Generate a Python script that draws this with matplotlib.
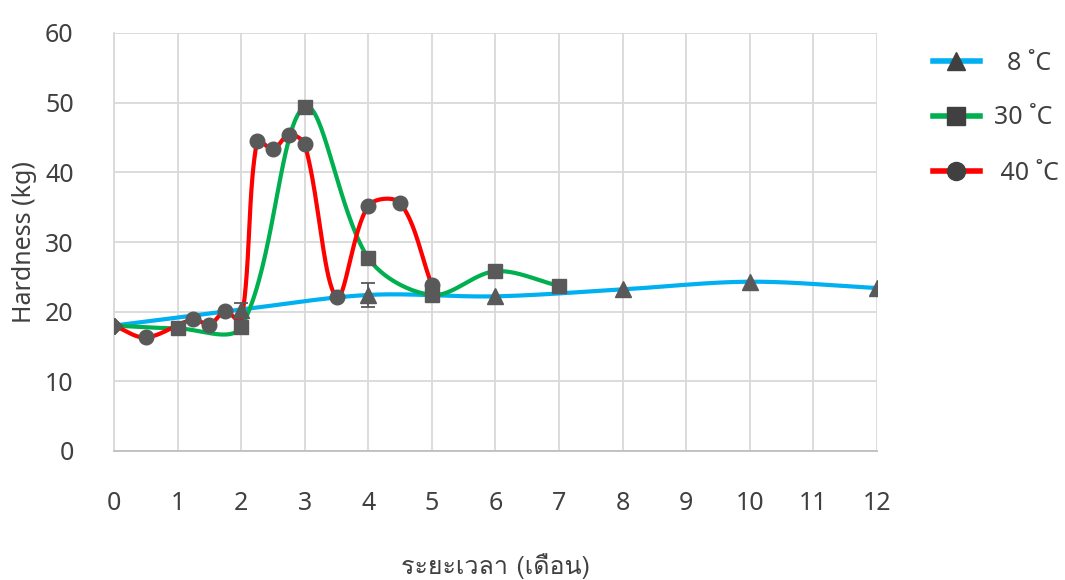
import numpy as np
import matplotlib
matplotlib.use("Agg")
import matplotlib.pyplot as plt
from matplotlib import font_manager
from matplotlib.ft2font import FT2Font

# ---- data -------------------------------------------------------------
months_8 = [0, 2, 4, 6, 8, 10, 12]
hard_8 = [18.0, 20.3, 22.4, 22.2, 23.2, 24.3, 23.4]
err_8 = [0, 1.0, 1.7, 0, 0, 0, 0]

months_30 = [0, 1, 2, 3, 4, 5, 6, 7]
hard_30 = [18.0, 17.6, 17.8, 49.4, 27.7, 22.4, 25.8, 23.7]
err_30 = [0, 0, 0, 0, 0, 0.6, 0, 0]

months_40 = [0, 0.5, 1.25, 1.5, 1.75, 2, 2.25, 2.5, 2.75, 3, 3.5, 4, 4.5, 5]
hard_40 = [18.0, 16.3, 18.9, 18.1, 20.1, 18.6, 44.5, 43.3, 45.4, 44.0,
           22.1, 35.2, 35.6, 23.8]
# month at which the 40 ˚C curve carries no marker
unmarked_40 = [2]

series_labels = ["  8 ˚C", "30 ˚C", " 40 ˚C"]
x_ticks = list(range(0, 13))
y_ticks = list(range(0, 61, 10))
x_title = "ระยะเวลา (เดือน)"
y_title = "Hardness (kg)"

FIG_W, FIG_H = 1065, 580
AX_L, AX_R, AX_T, AX_B = 114, 877, 33, 451


def thai_family():
    for f in font_manager.fontManager.ttflist:
        try:
            if 0x0E23 in FT2Font(f.fname).get_charmap():
                return f.name
        except Exception:
            pass
    return None


def smooth(xs, ys, sx, sy, n=40):
    """Bezier smoothing through every point; tangents are scaled by the
    neighbouring chord lengths measured in screen units."""
    p = np.column_stack([np.asarray(xs, float) * sx, np.asarray(ys, float) * sy])
    pts = np.vstack([p[0], p, p[-1]])
    out = [p[:1]]
    t = np.linspace(0, 1, n)[1:, None]
    for i in range(1, len(pts) - 2):
        p0, p1, p2, p3 = pts[i - 1], pts[i], pts[i + 1], pts[i + 2]
        d01 = np.hypot(*(p1 - p0))
        d12 = np.hypot(*(p2 - p1))
        d23 = np.hypot(*(p3 - p2))
        f1 = d12 / (d01 + d12) if d01 + d12 > 0 else 0.5
        f2 = d12 / (d12 + d23) if d12 + d23 > 0 else 0.5
        c1 = p1 + (p2 - p0) * f1 / 3.0
        c2 = p2 - (p3 - p1) * f2 / 3.0
        seg = ((1 - t) ** 3) * p1 + 3 * ((1 - t) ** 2) * t * c1 \
            + 3 * (1 - t) * t ** 2 * c2 + t ** 3 * p2
        out.append(seg)
    c = np.vstack(out)
    return c[:, 0] / sx, c[:, 1] / sy


thai = thai_family()
base = ["Noto Sans", "DejaVu Sans"]
plt.rcParams["font.family"] = base
text_color = "#404040"
fs = 18

fig = plt.figure(figsize=(FIG_W / 100, FIG_H / 100), dpi=100)
ax = fig.add_axes([AX_L / FIG_W, 1 - AX_B / FIG_H,
                   (AX_R - AX_L) / FIG_W, (AX_B - AX_T) / FIG_H])
ax.set_xlim(0, 12)
ax.set_ylim(0, 60)

# screen scale (pixels per data unit) for the smoothing
px_x = (AX_R - AX_L) / 12
px_y = (AX_B - AX_T) / 60

marker_color = "#595959"
series = [
    (months_8, hard_8, err_8, "#00B0F0", "^", []),
    (months_30, hard_30, err_30, "#00B050", "s", []),
    (months_40, hard_40, None, "#FF0000", "o", unmarked_40),
]

handles = []
for xs, ys, errs, col, mk, skip in series:
    cx, cy = smooth(xs, ys, px_x, px_y)
    ax.plot(cx, cy, color=col, lw=3.0, zorder=3, solid_capstyle="round")

for (xs, ys, errs, col, mk, skip), lab in zip(series, series_labels):
    if errs is not None:
        xe = [x for x, e in zip(xs, errs) if e > 0]
        ye = [y for y, e in zip(ys, errs) if e > 0]
        ee = [e for e in errs if e > 0]
        ax.errorbar(xe, ye, yerr=ee, fmt="none", ecolor=marker_color,
                    elinewidth=1.3, capsize=5, capthick=1.3, zorder=4)
    mx = [x for x in xs[1:] if x not in skip]
    my = [y for x, y in zip(xs[1:], ys[1:]) if x not in skip]
    ax.plot(mx, my, ls="none", marker=mk, ms=10.5 if mk != "^" else 11.5,
            color=marker_color, zorder=5)
    ax.plot(xs[:1], ys[:1], ls="none", marker="D", ms=8,
            color=marker_color, zorder=5)
    h, = ax.plot([], [], color=col, lw=4, marker=mk, ms=13,
                 markerfacecolor="#404040", markeredgecolor="#404040")
    handles.append(h)

ax.set_xticks(x_ticks)
ax.set_yticks(y_ticks)
ax.grid(True, color="#D9D9D9", lw=1.3, zorder=0)
ax.set_axisbelow(True)
for s in ax.spines.values():
    s.set_visible(False)
ax.spines["left"].set_visible(True)
ax.spines["left"].set_color("#D9D9D9")
ax.spines["left"].set_linewidth(1.3)
ax.spines["bottom"].set_visible(True)
ax.spines["bottom"].set_color("#BFBFBF")
ax.spines["bottom"].set_linewidth(1.3)
ax.tick_params(axis="both", length=0, labelsize=fs, colors=text_color)
ax.tick_params(axis="x", pad=29)
ax.tick_params(axis="y", pad=29)

ax.set_ylabel(y_title, fontsize=fs, color=text_color)
ax.yaxis.set_label_coords((37 - AX_L) / (AX_R - AX_L), 0.5)
xfam = [thai] + base if thai else base
ax.set_xlabel(x_title, fontsize=fs, color=text_color, fontfamily=xfam,
              va="center")
ax.xaxis.set_label_coords(0.5, (AX_B - 566) / (AX_B - AX_T))

fig.legend(handles, series_labels, loc="upper left",
           bbox_to_anchor=(910 / FIG_W, 1 - 28 / FIG_H), frameon=False,
           fontsize=18, handlelength=1.9, labelspacing=1.2,
           handletextpad=0.55, labelcolor=text_color)

fig.savefig("out.png", dpi=100)
